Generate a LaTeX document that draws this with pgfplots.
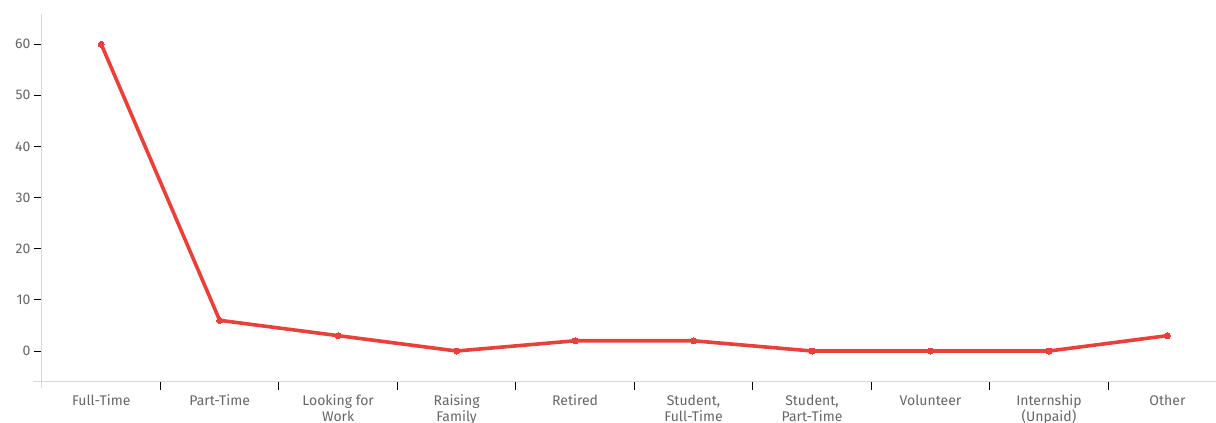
\documentclass[border=0pt]{standalone}
\usepackage{fontspec}
\setmainfont{Fira Sans}
\usepackage{pgfplots}
\pgfplotsset{compat=1.18}
\definecolor{linered}{HTML}{E8403A}
\definecolor{labelgray}{HTML}{666666}
\definecolor{axisgray}{HTML}{D9D9D9}
\begin{document}
\begin{tikzpicture}[x=1pt,y=1pt]
\begin{axis}[
  at={(42pt,41pt)}, anchor=south west,
  scale only axis, width=1174pt, height=368pt,
  xmin=-0.5, xmax=9.41, ymin=-6.06, ymax=65.9,
  axis x line=bottom, axis y line=left,
  axis line style={-, axisgray, line width=1pt},
  x axis line style={shorten <=-9pt},
  y axis line style={shorten <=-6pt},
  tick align=outside,
  major tick length=8pt,
  tick style={black, line width=1pt},
  xtick={0.5,1.5,...,8.5}, xticklabels={},
  extra x ticks={0,1,2,3,4,5,6,7,8,9},
  extra x tick labels={Full-Time,Part-Time,Looking for\\Work,Raising\\Family,Retired,{Student,\\Full-Time},{Student,\\Part-Time},Volunteer,Internship\\(Unpaid),Other},
  extra x tick style={tick style={draw=none}, major tick length=0pt,
    tick label style={align=center, font=\fontsize{14}{16.5}\selectfont, text=labelgray, yshift=-9pt}},
  ytick={0,10,...,60},
  yticklabel style={font=\fontsize{14}{16}\selectfont, text=labelgray},
  /pgf/number format/assume math mode=true,
  clip=false,
]
\addplot[linered, line width=3.6pt, mark=*, mark size=3pt, mark options={fill=linered, draw=linered, line width=0pt}]
  coordinates {(0,60) (1,6) (2,3) (3,0) (4,2) (5,2) (6,0) (7,0) (8,0) (9,3)};
\end{axis}
\pgfresetboundingbox
\useasboundingbox (0,0) rectangle (1216,423);
\end{tikzpicture}
\end{document}
